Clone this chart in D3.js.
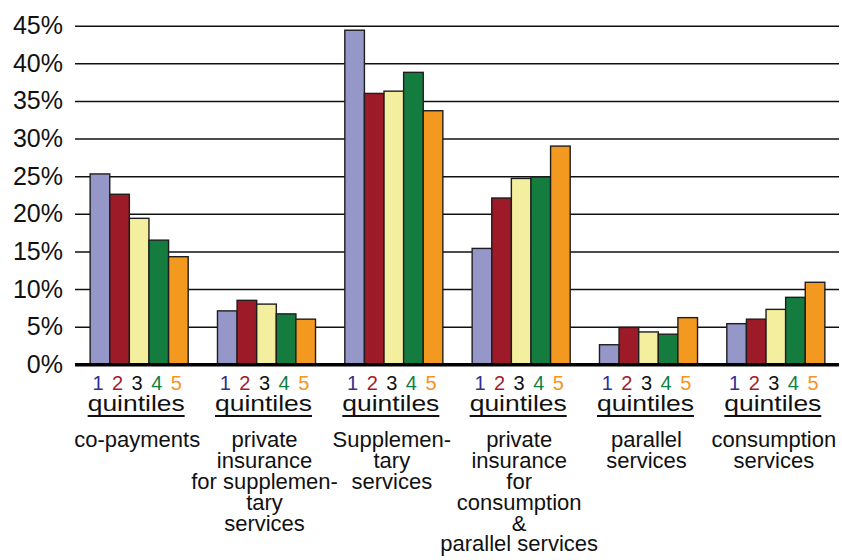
<!DOCTYPE html>
<html>
<head>
<meta charset="utf-8">
<script src="https://cdn.jsdelivr.net/npm/d3@7/dist/d3.min.js"></script>
<style>
  html, body { margin: 0; padding: 0; background: #fff; }
  svg { display: block; font-family: "Liberation Sans", Arial, Helvetica, sans-serif; }
</style>
</head>
<body>
<svg id="chart" width="842" height="560"></svg>
<script>
// Category labels, one entry per line of text
const categories = [
  ["co-payments"],
  ["private", "insurance", "for supplemen-", "tary", "services"],
  ["Supplemen-", "tary", "services"],
  ["private", "insurance", "for", "consumption", "&", "parallel services"],
  ["parallel", "services"],
  ["consumption", "services"]
];

// Income quintiles (series)
const quintiles = ["1", "2", "3", "4", "5"];

// Share (%) per category, one array per quintile
const q1 = [25.3, 7.1, 44.4, 15.4, 2.6, 5.4];
const q2 = [22.6, 8.5, 36.0, 22.1, 4.9, 6.0];
const q3 = [19.4, 8.0, 36.3, 24.7, 4.3, 7.3];
const q4 = [16.5, 6.7, 38.8, 24.9, 4.0, 8.9];
const q5 = [14.3, 6.0, 33.7, 29.0, 6.2, 10.9];

// Y axis tick values (%)
const yTicks = [0, 5, 10, 15, 20, 25, 30, 35, 40, 45];

const barColors = ["#9597c9", "#9d1b28", "#f3ef9e", "#147c3f", "#f4991f"];
const digitColors = ["#2e3192", "#a11d2c", "#111111", "#138043", "#f7941d"];

const seriesValues = [q1, q2, q3, q4, q5];
const rows = categories.map((c, i) => ({
  index: i,
  lines: c,
  values: quintiles.map((q, k) => ({ q, k, v: seriesValues[k][i] }))
}));

const svg = d3.select("#chart");

const x0 = d3.scaleBand()
  .domain(d3.range(categories.length))
  .range([75.5, 839.5])
  .paddingInner(0.23)
  .paddingOuter(0.115);

const x1 = d3.scaleBand()
  .domain(quintiles)
  .range([0, x0.bandwidth()]);

const y = d3.scaleLinear()
  .domain([0, 45])
  .range([364.3, 25.7]);

// Gridlines + tick labels
const yAxis = d3.axisLeft(y)
  .tickValues(yTicks)
  .tickFormat(d => d + "%")
  .tickSize(-(839 - 75))
  .tickPadding(12);

const gy = svg.append("g")
  .attr("transform", "translate(75,0)")
  .call(yAxis);
gy.select(".domain").remove();
gy.selectAll(".tick line")
  .attr("stroke", "#111")
  .attr("stroke-width", 1.6);
gy.selectAll(".tick text")
  .attr("fill", "#111")
  .attr("font-size", 25)
  .attr("font-family", "Liberation Sans, Arial, sans-serif");

// Bars
const groups = svg.append("g")
  .selectAll("g")
  .data(rows)
  .join("g")
  .attr("transform", d => `translate(${x0(d.index)},0)`);

groups.selectAll("rect")
  .data(d => d.values)
  .join("rect")
  .attr("x", d => x1(d.q))
  .attr("width", x1.bandwidth())
  .attr("y", d => y(d.v))
  .attr("height", d => y(0) - y(d.v))
  .attr("fill", d => barColors[d.k])
  .attr("stroke", "#1e1e1e")
  .attr("stroke-width", 1.4);

// Baseline
svg.append("line")
  .attr("x1", 75).attr("x2", 839)
  .attr("y1", y(0) + 0.5).attr("y2", y(0) + 0.5)
  .attr("stroke", "#000")
  .attr("stroke-width", 3.5);

// Quintile digits under each bar
groups.selectAll("text.digit")
  .data(d => d.values)
  .join("text")
  .attr("class", "digit")
  .attr("x", d => x1(d.q) + x1.bandwidth() / 2 - 2)
  .attr("y", 390)
  .attr("text-anchor", "middle")
  .attr("font-size", 20)
  .attr("fill", d => digitColors[d.k])
  .text(d => d.q);

// "quintiles" underlined caption
groups.append("text")
  .attr("x", x0.bandwidth() / 2 - 3)
  .attr("y", 410.5)
  .attr("text-anchor", "middle")
  .attr("font-size", 22)
  .attr("textLength", 97)
  .attr("lengthAdjust", "spacingAndGlyphs")
  .attr("fill", "#111")
  .text("quintiles");

groups.append("line")
  .attr("x1", x0.bandwidth() / 2 - 3 - 48.5)
  .attr("x2", x0.bandwidth() / 2 - 3 + 48.5)
  .attr("y1", 416).attr("y2", 416)
  .attr("stroke", "#111")
  .attr("stroke-width", 2);

// Category names, centred under each group
groups.append("text")
  .attr("text-anchor", "middle")
  .attr("font-size", 22)
  .attr("fill", "#111")
  .selectAll("tspan")
  .data(d => d.lines)
  .join("tspan")
  .attr("x", x0.bandwidth() / 2 - 2)
  .attr("y", (d, i) => 447.3 + i * 20.8)
  .text(d => d);
</script>
</body>
</html>
